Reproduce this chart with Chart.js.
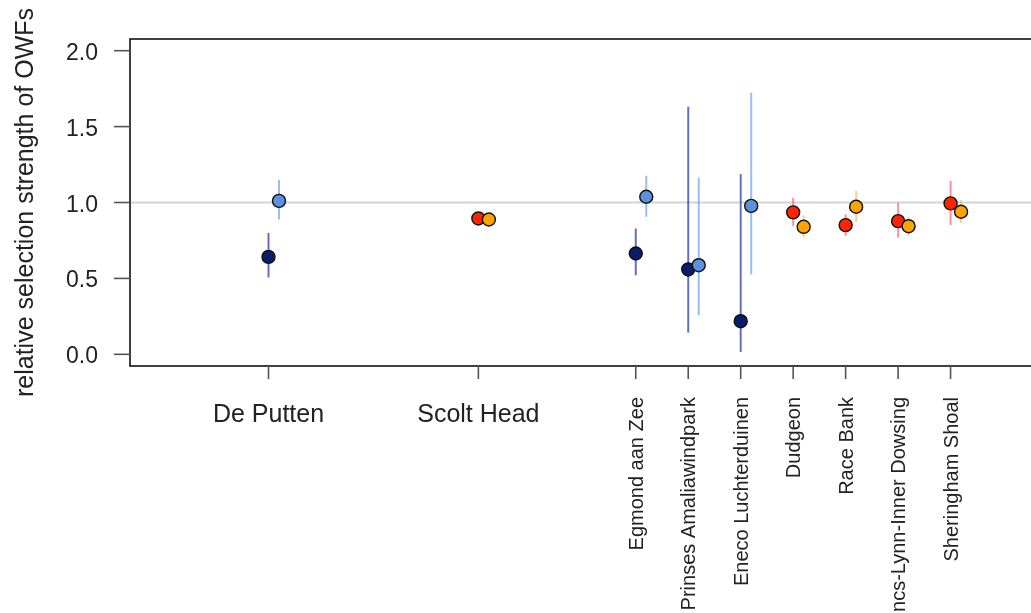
<!DOCTYPE html>
<html>
<head>
<meta charset="utf-8">
<title>relative selection strength of OWFs</title>
<script src="https://cdn.jsdelivr.net/npm/chart.js@4/dist/chart.umd.min.js"></script>
<style>
  html, body { margin: 0; padding: 0; background: #fff; overflow: hidden; }
  #wrap { position: absolute; left: 0; top: 0; width: 1060px; height: 613px; }
</style>
</head>
<body>
<div id="wrap"><canvas id="owfCanvas" width="1060" height="613"></canvas></div>
<script>
// wind farms along the x axis and where they sit on it
const sites = ['De Putten', 'Scolt Head', 'Egmond aan Zee', 'Prinses Amaliawindpark', 'Eneco Luchterduinen',
  'Dudgeon', 'Race Bank', 'Lincs-Lynn-Inner Dowsing', 'Sheringham Shoal'];
const sitePos = [1, 5, 8, 9, 10, 11, 12, 13, 14];
const country = ['NL', 'UK', 'NL', 'NL', 'NL', 'UK', 'UK', 'UK', 'UK'];

// first estimate (navy / red) with its interval
const estA  = [0.642, 0.895, 0.664, 0.559, 0.218, 0.935, 0.851, 0.877, 0.994];
const lowA  = [0.506, 0.870, 0.521, 0.143, 0.015, 0.846, 0.780, 0.770, 0.851];
const highA = [0.800, 0.920, 0.829, 1.631, 1.187, 1.031, 0.923, 0.998, 1.143];

// second estimate (light blue / orange) with its interval
const estB  = [1.011, 0.888, 1.038, 0.587, 0.978, 0.840, 0.972, 0.844, 0.939];
const lowB  = [0.888, 0.865, 0.906, 0.257, 0.526, 0.770, 0.873, 0.780, 0.866];
const highB = [1.148, 0.910, 1.176, 1.163, 1.724, 0.917, 1.077, 0.906, 1.016];

const yTicks = [0, 0.5, 1.0, 1.5, 2.0];
const refLine = 1.0;

// colours per country
const pointCol = { A: { NL: '#0a1d6b', UK: '#ff2400' }, B: { NL: '#5b91de', UK: '#ffa300' } };
const barCol = {
  A: { NL: 'rgba(45,65,170,0.75)', UK: 'rgba(255,70,95,0.6)' },
  B: { NL: 'rgba(110,160,240,0.7)', UK: 'rgba(255,185,70,0.65)' }
};
const shift = 0.2; // second point sits a bit right of the tick

const rStyle = {
  id: 'rStyle',
  beforeDatasetsDraw(chart) {
    const { ctx, chartArea: a, scales: { x, y } } = chart;
    ctx.save();
    // grey reference line at 1
    ctx.strokeStyle = '#d4d4d4';
    ctx.lineWidth = 2;
    ctx.beginPath();
    ctx.moveTo(a.left, y.getPixelForValue(refLine));
    ctx.lineTo(a.right, y.getPixelForValue(refLine));
    ctx.stroke();
    // error bars
    ctx.lineWidth = 2;
    const bars = (lo, hi, off, key) => {
      sitePos.forEach((p, i) => {
        const px = x.getPixelForValue(p + off);
        ctx.strokeStyle = barCol[key][country[i]];
        ctx.beginPath();
        ctx.moveTo(px, y.getPixelForValue(lo[i]));
        ctx.lineTo(px, y.getPixelForValue(hi[i]));
        ctx.stroke();
      });
    };
    bars(lowA, highA, 0, 'A');
    bars(lowB, highB, shift, 'B');
    ctx.restore();
  },
  afterDraw(chart) {
    const { ctx, chartArea: a, scales: { x, y } } = chart;
    ctx.save();
    // box
    ctx.strokeStyle = '#111';
    ctx.lineWidth = 1.6;
    ctx.strokeRect(a.left, a.top, a.right - a.left, a.bottom - a.top);

    // y axis ticks + labels
    ctx.strokeStyle = '#555';
    ctx.lineWidth = 1.6;
    ctx.fillStyle = '#222';
    ctx.font = '23px "Liberation Sans", Arial, sans-serif';
    ctx.textAlign = 'right';
    ctx.textBaseline = 'alphabetic';
    yTicks.forEach(v => {
      const py = y.getPixelForValue(v);
      ctx.beginPath();
      ctx.moveTo(a.left - 16, py);
      ctx.lineTo(a.left, py);
      ctx.stroke();
      ctx.fillText(v.toFixed(1), a.left - 32, py + 9);
    });

    // x axis ticks + labels
    sitePos.forEach((p, i) => {
      const px = x.getPixelForValue(p);
      ctx.beginPath();
      ctx.moveTo(px, a.bottom);
      ctx.lineTo(px, a.bottom + 13);
      ctx.stroke();
      if (i < 2) {
        ctx.font = '25px "Liberation Sans", Arial, sans-serif';
        ctx.textAlign = 'center';
        ctx.fillText(sites[i], px, a.bottom + 56);
      } else {
        ctx.save();
        ctx.font = '20px "Liberation Sans", Arial, sans-serif';
        ctx.translate(px, a.bottom + 31);
        ctx.rotate(-Math.PI / 2);
        ctx.textAlign = 'right';
        ctx.fillText(sites[i], 0, 7);
        ctx.restore();
      }
    });

    // y axis title
    ctx.save();
    ctx.font = '25px "Liberation Sans", Arial, sans-serif';
    ctx.translate(33, (a.top + a.bottom) / 2);
    ctx.rotate(-Math.PI / 2);
    ctx.textAlign = 'center';
    ctx.fillText('relative selection strength of OWFs', 0, 0);
    ctx.restore();
    ctx.restore();
  }
};

const pts = (est, off) => sitePos.map((p, i) => ({ x: p + off, y: est[i] }));

new Chart(document.getElementById('owfCanvas'), {
  type: 'scatter',
  data: {
    datasets: [
      {
        label: 'A',
        data: pts(estA, 0),
        pointBackgroundColor: country.map(c => pointCol.A[c]),
        pointBorderColor: '#111',
        pointBorderWidth: 1.4,
        pointRadius: 6.5,
        order: 2
      },
      {
        label: 'B',
        data: pts(estB, shift),
        pointBackgroundColor: country.map(c => pointCol.B[c]),
        pointBorderColor: '#111',
        pointBorderWidth: 1.4,
        pointRadius: 6.5,
        order: 1
      }
    ]
  },
  options: {
    responsive: false,
    animation: false,
    layout: { padding: { left: 130, right: 15, top: 39, bottom: 247 } },
    plugins: { legend: { display: false }, tooltip: { enabled: false } },
    scales: {
      x: { type: 'linear', min: -1.64, max: 15.8, display: false },
      y: { type: 'linear', min: -0.077, max: 2.077, display: false }
    }
  },
  plugins: [rStyle]
});
</script>
</body>
</html>
